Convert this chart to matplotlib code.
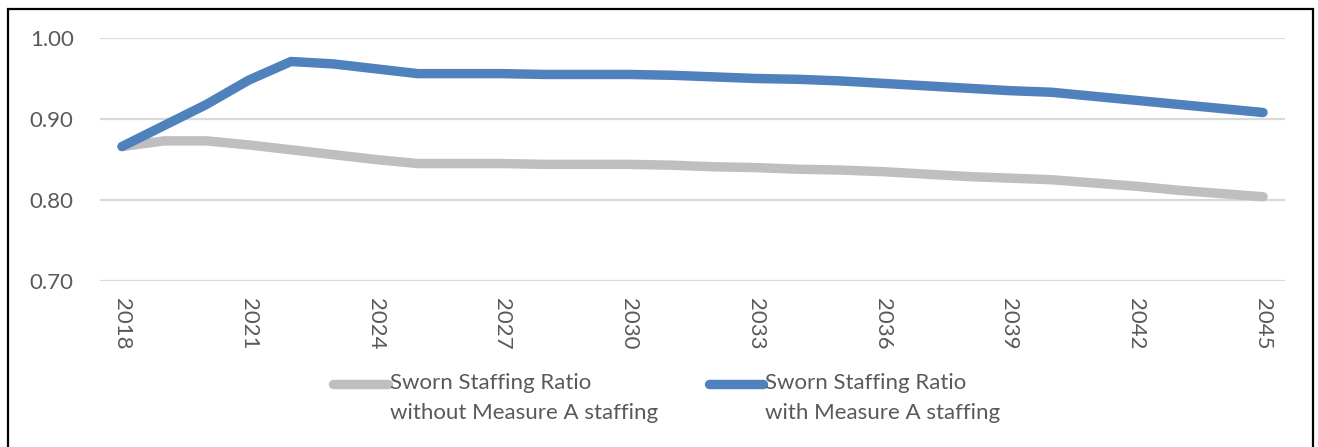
import matplotlib
matplotlib.use("Agg")
import matplotlib.pyplot as plt
from matplotlib.lines import Line2D
from matplotlib.patches import Rectangle

# Sworn staffing ratio projections, 2018-2045
years = list(range(2018, 2046))
ratio_without = [0.866, 0.873, 0.873, 0.868, 0.862, 0.856, 0.850, 0.845,
                 0.845, 0.845, 0.844, 0.844, 0.844, 0.843, 0.841, 0.840,
                 0.838, 0.837, 0.835, 0.832, 0.829, 0.827, 0.825, 0.821,
                 0.817, 0.812, 0.808, 0.804]
ratio_with = [0.866, 0.892, 0.918, 0.948, 0.971, 0.968, 0.962, 0.956,
              0.956, 0.956, 0.955, 0.955, 0.955, 0.954, 0.952, 0.950,
              0.949, 0.947, 0.944, 0.941, 0.938, 0.935, 0.933, 0.928,
              0.923, 0.918, 0.913, 0.908]
label_without = "Sworn Staffing Ratio\nwithout Measure A staffing"
label_with = "Sworn Staffing Ratio\nwith Measure A staffing"
yticks = [0.70, 0.80, 0.90, 1.00]
xticks = years[::3]

GRAY = "#BFBFBF"
BLUE = "#4F81BD"
TEXT = "#595959"
FONT = "Lato"
FS = 16

W, H = 1318, 447
fig = plt.figure(figsize=(W / 100, H / 100), dpi=100)

# outer frame (bottom edge runs off the canvas)
fig.add_artist(Rectangle((7.5 / W, -0.05), (1313 - 7.5) / W, (H - 8.5) / H + 0.05,
                         transform=fig.transFigure, fill=False,
                         edgecolor="black", linewidth=1.6))

left, right, top, bottom = 100, 1285, 38, 281
ax = fig.add_axes([left / W, 1 - bottom / H, (right - left) / W, (bottom - top) / H])

ax.plot(years, ratio_without, color=GRAY, linewidth=6.8, solid_capstyle="round",
        solid_joinstyle="round", zorder=3)
ax.plot(years, ratio_with, color=BLUE, linewidth=6.8, solid_capstyle="round",
        solid_joinstyle="round", zorder=4)

ax.set_xlim(years[0] - 0.52, years[-1] + 0.52)
ax.set_ylim(0.70, 1.00)
ax.set_yticks(yticks)
ax.set_yticklabels([f"{v:.2f}" for v in yticks], fontsize=FS, color=TEXT, family=FONT)
ax.set_xticks(xticks)
ax.set_xticklabels([str(y) for y in xticks], rotation=270, fontsize=FS,
                   color=TEXT, family=FONT)
ax.tick_params(axis="both", length=0)
ax.tick_params(axis="y", pad=19)
ax.tick_params(axis="x", pad=12)
ax.grid(axis="y", color="#D9D9D9", linewidth=1.6)
ax.set_axisbelow(True)
for s in ax.spines.values():
    s.set_visible(False)

# legend
def legend_entry(x0, x1, color, text):
    y = 1 - 384 / H
    fig.add_artist(Line2D([x0 / W, x1 / W], [y, y], transform=fig.transFigure,
                          color=color, linewidth=6.8, solid_capstyle="round"))
    fig.text((x1 + 2) / W, 1 - 373 / H, text, ha="left", va="top", fontsize=FS,
             color=TEXT, family=FONT, linespacing=1.62)

legend_entry(333, 388, GRAY, label_without)
legend_entry(709, 763, BLUE, label_with)

fig.savefig("out.png", dpi=100)
